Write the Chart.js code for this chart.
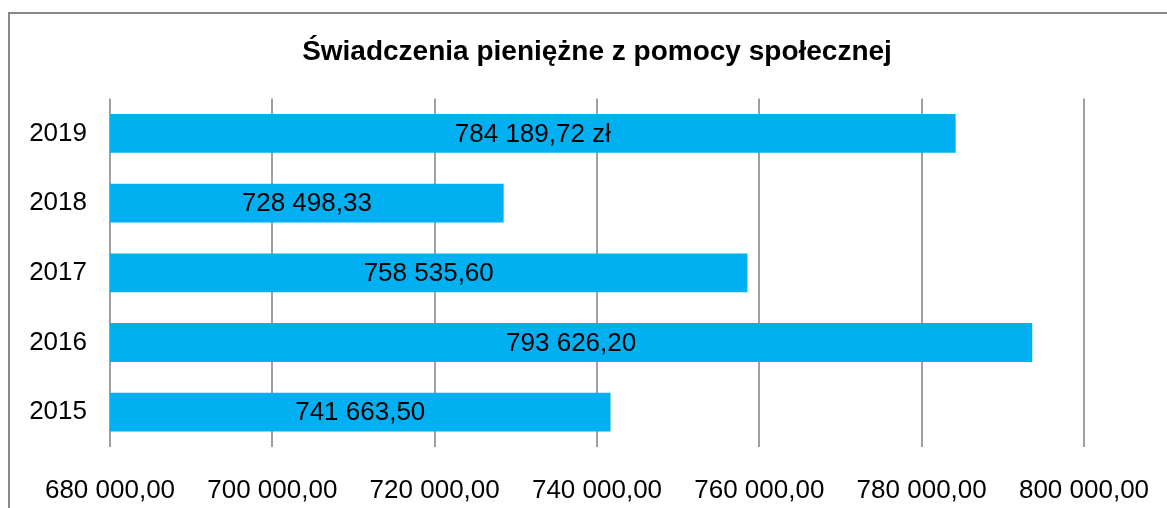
<!DOCTYPE html>
<html>
<head>
<meta charset="utf-8">
<script src="https://cdn.jsdelivr.net/npm/chart.js@4/dist/chart.umd.min.js"></script>
<style>
  html, body { margin: 0; padding: 0; background: #fff; overflow: hidden; }
  #wrap { position: relative; width: 1167px; height: 508px; }
  #frame { position: absolute; left: 8px; top: 12px; width: 2000px; height: 2000px; border-left: 2px solid #898989; border-top: 2px solid #898989; }
  canvas { position: absolute; left: 0; top: 0; }
</style>
</head>
<body>
<div id="wrap">
  <div id="frame"></div>
  <canvas id="c" width="1167" height="508"></canvas>
</div>
<script>
const titleText = 'Świadczenia pieniężne z pomocy społecznej';
const years = ['2015', '2016', '2017', '2018', '2019'];
const values = [741663.50, 793626.20, 758535.60, 728498.33, 784189.72];
const valueLabels = ['741 663,50', '793 626,20', '758 535,60', '728 498,33', '784 189,72 zł'];
const axisMin = 680000;
const axisMax = 800000;
const axisStep = 20000;

const FONT = "'Liberation Sans', Arial, sans-serif";

function fmt(v) {
  const s = Math.round(v).toString().replace(/\B(?=(\d{3})+(?!\d))/g, ' ');
  return s + ',00';
}

const barLabels = {
  id: 'barLabels',
  afterDraw(chart) {
    const ctx = chart.ctx;
    ctx.save();
    try {
      const xs = chart.scales.x;
      const ys = chart.scales.y;
      ctx.font = '26px ' + FONT;
      ctx.fillStyle = '#000000';
      ctx.textAlign = 'center';
      ctx.textBaseline = 'middle';
      values.forEach((v, i) => {
        const x0 = xs.getPixelForValue(axisMin);
        const x1 = xs.getPixelForValue(v);
        const y = ys.getPixelForValue(i);
        ctx.fillText(valueLabels[i], (x0 + x1) / 2, y + 1);
      });
    } catch (e) {
      ctx.fillStyle = 'red';
      ctx.font = '14px sans-serif';
      ctx.fillText(String(e), 20, 20);
    }
    ctx.restore();
  }
};

new Chart(document.getElementById('c'), {
  type: 'bar',
  data: {
    labels: years,
    datasets: [{
      data: values,
      backgroundColor: '#00B0F0',
      borderWidth: 0,
      categoryPercentage: 0.557,
      barPercentage: 1.0
    }]
  },
  options: {
    indexAxis: 'y',
    responsive: false,
    animation: false,
    devicePixelRatio: 1,
    layout: { padding: { left: 0, right: 83, top: 13, bottom: 0 } },
    plugins: {
      legend: { display: false },
      tooltip: { enabled: false },
      title: {
        display: true,
        text: titleText,
        fullSize: false,
        color: '#000',
        font: { family: FONT, size: 28, weight: 'bold' },
        padding: { top: 22, bottom: 30 }
      }
    },
    scales: {
      x: {
        min: axisMin,
        max: axisMax,
        ticks: {
          stepSize: axisStep,
          color: '#000',
          font: { family: FONT, size: 26 },
          padding: 28,
          callback: (v) => fmt(v),
          maxRotation: 0
        },
        grid: { color: '#A0A0A0', lineWidth: 2, drawTicks: false },
        border: { display: false },
        afterFit(scale) { scale.height = 61; scale.paddingLeft = 0; scale.paddingRight = 0; }
      },
      y: {
        reverse: true,
        ticks: {
          color: '#000',
          font: { family: FONT, size: 26 },
          padding: 23
        },
        grid: { display: false, drawTicks: false },
        border: { display: false },
        afterFit(scale) { scale.width = 110; scale.paddingTop = 0; scale.paddingBottom = 0; }
      }
    }
  },
  plugins: [barLabels]
});
</script>
</body>
</html>
